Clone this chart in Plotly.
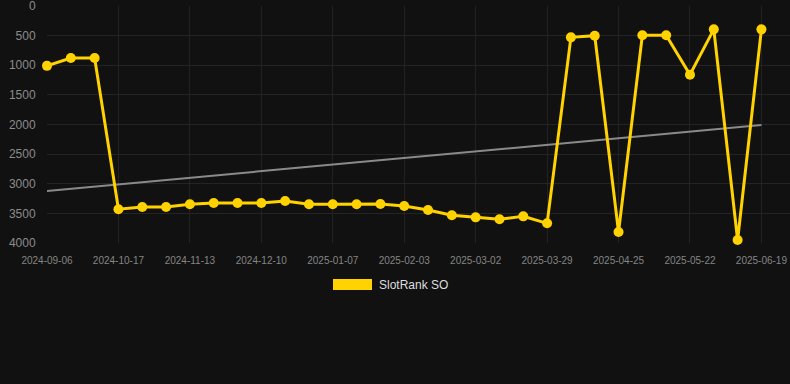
import plotly.graph_objects as go

dates = ["2024-09-06", "2024-09-20", "2024-10-04", "2024-10-17", "2024-10-26", "2024-11-04",
         "2024-11-13", "2024-11-22", "2024-12-01", "2024-12-10", "2024-12-19", "2024-12-29",
         "2025-01-07", "2025-01-16", "2025-01-25", "2025-02-03", "2025-02-12", "2025-02-21",
         "2025-03-02", "2025-03-11", "2025-03-20", "2025-03-29", "2025-04-07", "2025-04-16",
         "2025-04-25", "2025-05-04", "2025-05-13", "2025-05-22", "2025-05-31", "2025-06-10",
         "2025-06-19"]
rank = [1010, 878, 878, 3430, 3392, 3392,
        3347, 3325, 3325, 3325, 3291, 3347,
        3347, 3347, 3342, 3376, 3443, 3533,
        3567, 3600, 3550, 3668, 529, 501,
        3814, 495, 495, 1159, 394, 3949,
        394]
trend_dates = ["2024-09-06", "2025-06-19"]
trend_values = [3122, 2008]
tick_labels = dates[::3]
y_ticks = [0, 500, 1000, 1500, 2000, 2500, 3000, 3500, 4000]
series_name = "SlotRank SO"

gold = "#FFD200"

fig = go.Figure()
fig.add_trace(go.Scatter(
    x=trend_dates, y=trend_values, mode="lines",
    line=dict(color="#8a8a8a", width=2), showlegend=False, hoverinfo="skip"))
fig.add_trace(go.Scatter(
    x=dates, y=rank, mode="lines+markers", name=series_name,
    line=dict(color=gold, width=3),
    marker=dict(color=gold, size=10),
    cliponaxis=False, showlegend=False))

fig.update_layout(
    width=790, height=384,
    margin=dict(l=47, r=0, t=6, b=141),
    paper_bgcolor="#111111", plot_bgcolor="#111111",
    font=dict(family="Liberation Sans, Arial, sans-serif", color="#8c8c8c"),
    xaxis=dict(type="category", categoryorder="array", categoryarray=dates,
               range=[0, 31.2], tickvals=tick_labels, ticktext=tick_labels,
               showgrid=True, gridcolor="#222222", gridwidth=1,
               zeroline=False, showline=False,
               tickfont=dict(size=10, color="#858585"),
               ticklabeloverflow="allow",
               ticks="outside", ticklen=8, tickcolor="rgba(0,0,0,0)"),
    yaxis=dict(range=[4000, 0], tickvals=y_ticks,
               showgrid=True, gridcolor="#242424", gridwidth=1,
               zeroline=False, showline=False,
               tickfont=dict(size=12, color="#8c8c8c"),
               ticklabeloverflow="allow",
               ticks="outside", ticklen=8, tickcolor="rgba(0,0,0,0)"),
    showlegend=False,
)

# legend box drawn like the reference (wide colour swatch + label)
fig.add_shape(type="rect", xref="paper", yref="paper",
              x0=(333 - 47) / 743, x1=(372 - 47) / 743,
              y0=(243 - 290) / 237, y1=(243 - 279) / 237,
              fillcolor=gold, line=dict(width=0))
fig.add_annotation(xref="paper", yref="paper",
                   x=(377 - 47) / 743, y=(243 - 284.5) / 237,
                   xanchor="left", yanchor="middle", showarrow=False,
                   text=series_name, font=dict(size=12, color="#dddddd"))

fig.write_html("out.html", config={"displayModeBar": False},
               post_script="document.body.style.margin='0';document.body.style.background='#111111';")
